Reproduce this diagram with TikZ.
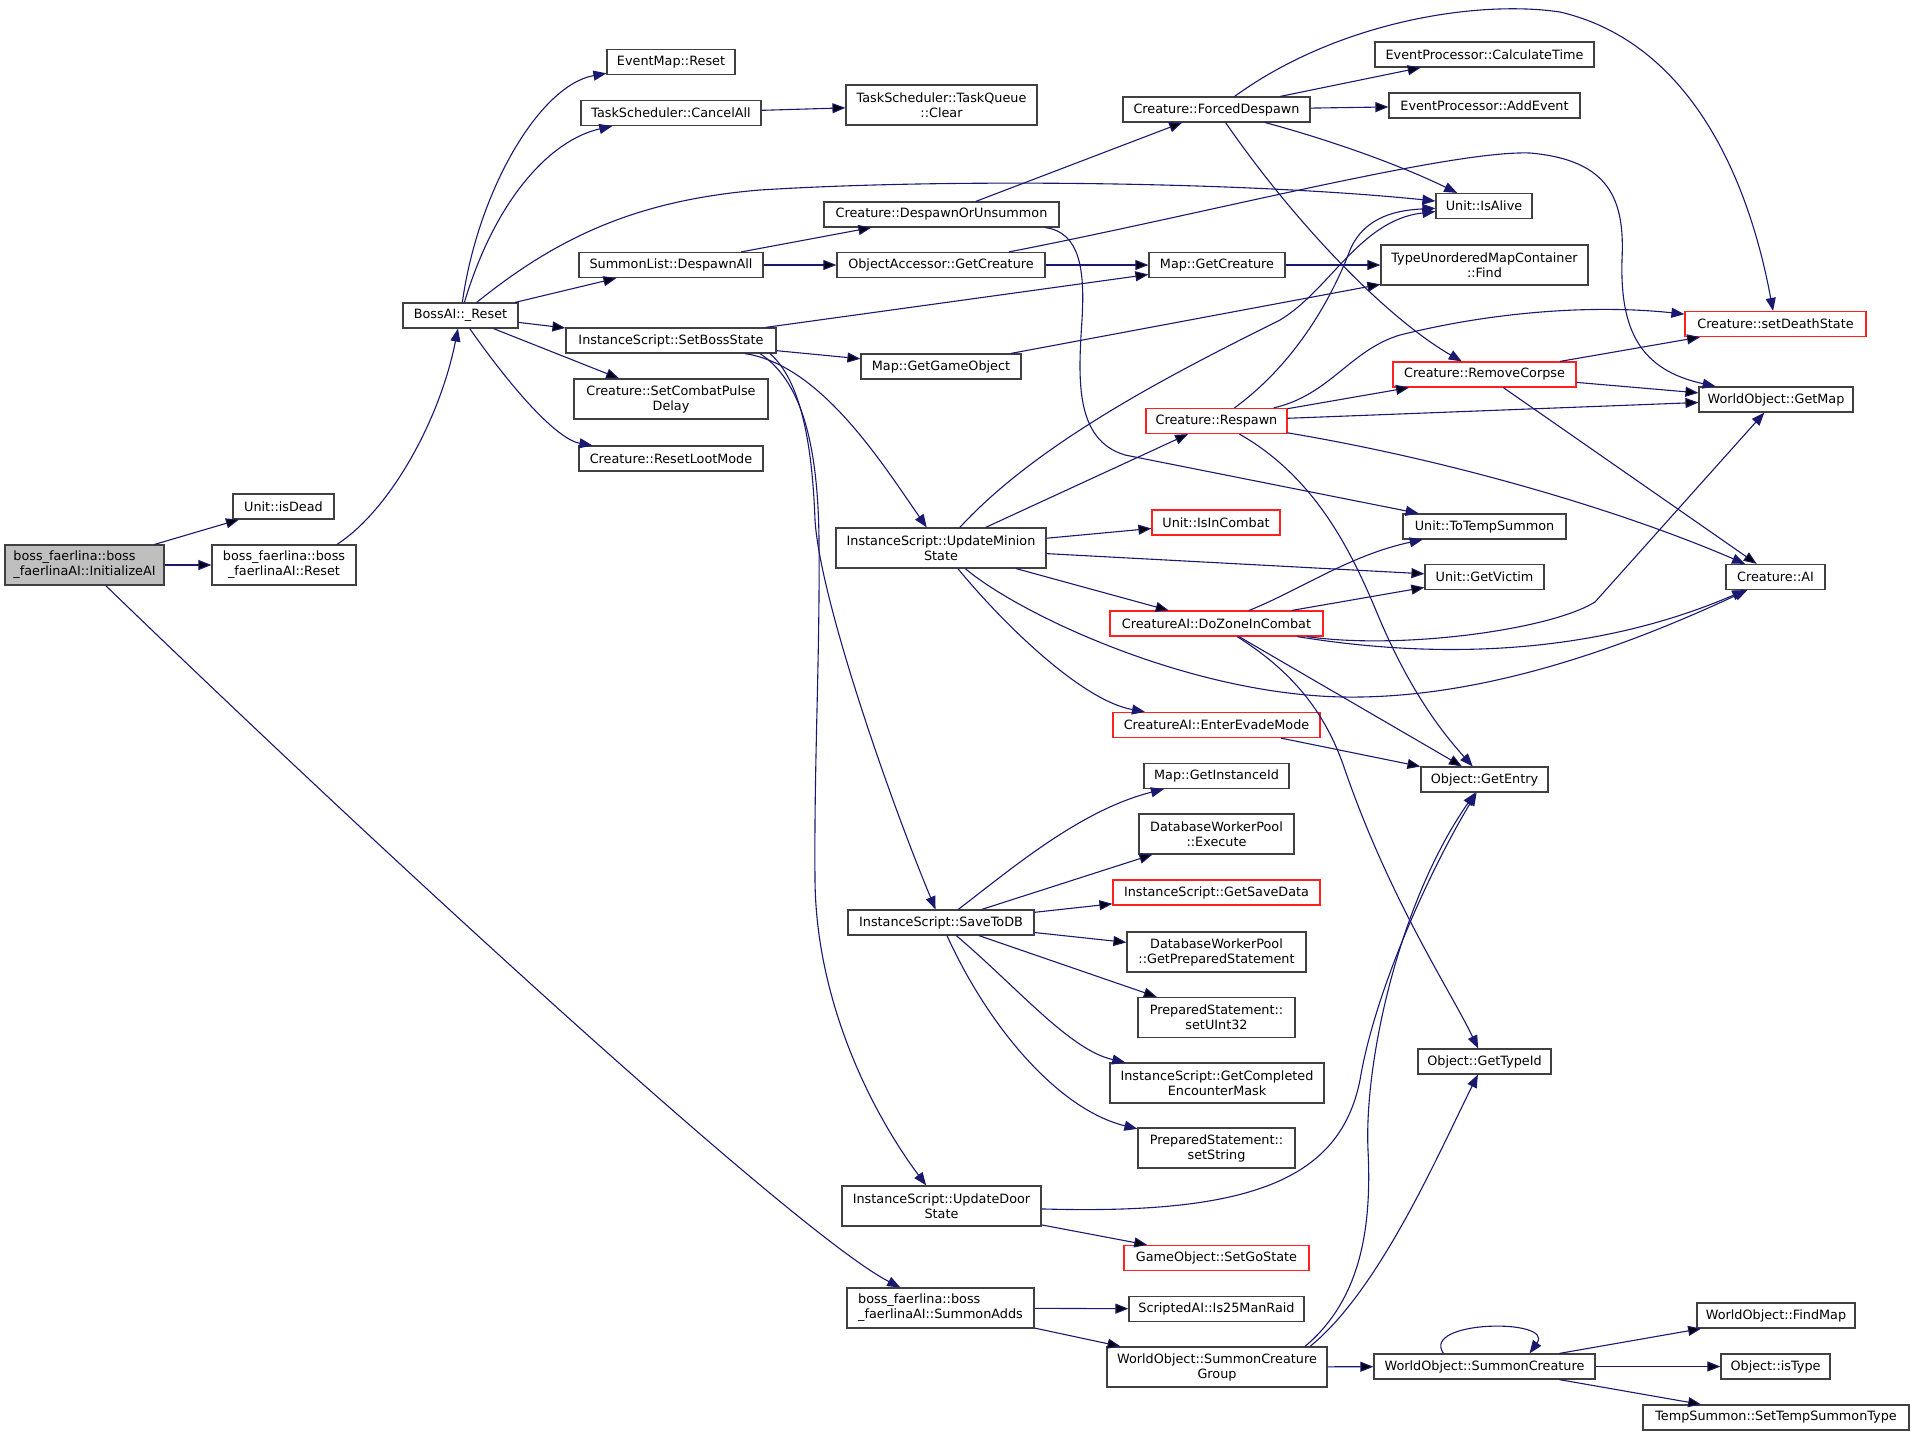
\documentclass[tikz,border=0pt]{standalone}
\usepackage{fontspec}
\setmainfont{DejaVu Sans}
\usetikzlibrary{arrows.meta}
\definecolor{callblue}{HTML}{191970}
\definecolor{boxgray}{HTML}{BFBFBF}
\definecolor{boxline}{HTML}{404040}
\definecolor{truncred}{HTML}{FF2020}
\tikzset{fn node/.style={rectangle,draw=boxline,line width=1.2pt,minimum height=25pt,inner sep=0pt,align=center,font=\fontsize{12.8}{15}\selectfont},
  tall/.style={minimum height=40pt},
  root node/.style={fn node,fill=boxgray},
  trunc node/.style={fn node,draw=truncred},
  call/.style={draw=callblue,line width=1.1pt,-{Triangle[length=13pt,width=10pt]}},}

\begin{document}
\begin{tikzpicture}[x=1pt,y=-1pt]
  \useasboundingbox (0,0) rectangle (1915,1436);
  \fill[white] (0,0) rectangle (1915,1436);

  \node[root node,tall,minimum width=159pt,align=left] (1) at (84.5,565) {boss\_faerlina::boss\\\_faerlinaAI::InitializeAI};
  \node[fn node,minimum width=101pt] (2) at (283.5,506.5) {Unit::isDead};
  \node[fn node,tall,minimum width=144pt] (3) at (284,565) {boss\_faerlina::boss\\\_faerlinaAI::Reset};
  \node[fn node,minimum width=115pt] (4) at (460.5,315.5) {BossAI::\_Reset};
  \node[fn node,minimum width=128pt] (5) at (671,62) {EventMap::Reset};
  \node[fn node,minimum width=180pt] (6) at (671,113) {TaskScheduler::CancelAll};
  \node[fn node,tall,minimum width=191pt] (7) at (941.5,105) {TaskScheduler::TaskQueue\\::Clear};
  \node[fn node,minimum width=184pt] (8) at (671,265) {SummonList::DespawnAll};
  \node[fn node,minimum width=210pt] (9) at (671,340.5) {InstanceScript::SetBossState};
  \node[fn node,tall,minimum width=194pt] (10) at (671,399) {Creature::SetCombatPulse\\Delay};
  \node[fn node,minimum width=184pt] (11) at (671,458.5) {Creature::ResetLootMode};
  \node[fn node,minimum width=235pt] (12) at (941.5,214.5) {Creature::DespawnOrUnsummon};
  \node[fn node,minimum width=208pt] (13) at (941,265) {ObjectAccessor::GetCreature};
  \node[fn node,minimum width=160pt] (14) at (941,366.5) {Map::GetGameObject};
  \node[fn node,tall,minimum width=210pt] (15) at (941,548) {InstanceScript::UpdateMinion\\State};
  \node[fn node,minimum width=186pt] (16) at (941,922.5) {InstanceScript::SaveToDB};
  \node[fn node,tall,minimum width=199pt] (17) at (941.5,1206) {InstanceScript::UpdateDoor\\State};
  \node[fn node,tall,minimum width=187pt,align=left] (18) at (940.5,1308) {boss\_faerlina::boss\\\_faerlinaAI::SummonAdds};
  \node[fn node,minimum width=187pt] (19) at (1216.5,109.5) {Creature::ForcedDespawn};
  \node[fn node,minimum width=136pt] (20) at (1217,265) {Map::GetCreature};
  \node[trunc node,minimum width=141pt] (21) at (1216.5,421) {Creature::Respawn};
  \node[trunc node,minimum width=128pt] (22) at (1216,522.5) {Unit::IsInCombat};
  \node[trunc node,minimum width=213pt] (23) at (1216.5,623.5) {CreatureAI::DoZoneInCombat};
  \node[trunc node,minimum width=207pt] (24) at (1216.5,725) {CreatureAI::EnterEvadeMode};
  \node[fn node,minimum width=145pt] (25) at (1216.5,776) {Map::GetInstanceId};
  \node[fn node,tall,minimum width=155pt] (26) at (1216.5,834) {DatabaseWorkerPool\\::Execute};
  \node[trunc node,minimum width=207pt] (27) at (1216.5,892.5) {InstanceScript::GetSaveData};
  \node[fn node,tall,minimum width=179pt] (28) at (1216.5,952) {DatabaseWorkerPool\\::GetPreparedStatement};
  \node[fn node,tall,minimum width=157pt] (29) at (1216.5,1017.5) {PreparedStatement::\\setUInt32};
  \node[fn node,tall,minimum width=214pt] (30) at (1217,1083) {InstanceScript::GetCompleted\\EncounterMask};
  \node[fn node,tall,minimum width=157pt] (31) at (1216.5,1148) {PreparedStatement::\\setString};
  \node[trunc node,minimum width=185pt] (32) at (1216.5,1258) {GameObject::SetGoState};
  \node[fn node,minimum width=175pt] (33) at (1216.5,1309) {ScriptedAI::Is25ManRaid};
  \node[fn node,tall,minimum width=220pt] (34) at (1217,1367) {WorldObject::SummonCreature\\Group};
  \node[fn node,minimum width=219pt] (35) at (1484.5,54.5) {EventProcessor::CalculateTime};
  \node[fn node,minimum width=191pt] (36) at (1484.5,105.5) {EventProcessor::AddEvent};
  \node[fn node,minimum width=96pt] (37) at (1484,206) {Unit::IsAlive};
  \node[fn node,tall,minimum width=207pt] (38) at (1484.5,265) {TypeUnorderedMapContainer\\::Find};
  \node[trunc node,minimum width=183pt] (39) at (1484.5,374.5) {Creature::RemoveCorpse};
  \node[fn node,minimum width=163pt] (40) at (1484.5,526.5) {Unit::ToTempSummon};
  \node[fn node,minimum width=119pt] (41) at (1484.5,577) {Unit::GetVictim};
  \node[fn node,minimum width=127pt] (42) at (1484.5,779.5) {Object::GetEntry};
  \node[fn node,minimum width=133pt] (43) at (1484.5,1061.5) {Object::GetTypeId};
  \node[fn node,minimum width=221pt] (44) at (1484.5,1366.5) {WorldObject::SummonCreature};
  \node[trunc node,minimum width=181pt] (45) at (1775.5,324) {Creature::setDeathState};
  \node[fn node,minimum width=154pt] (46) at (1776,399.5) {WorldObject::GetMap};
  \node[fn node,minimum width=99pt] (47) at (1775.5,577) {Creature::AI};
  \node[fn node,minimum width=158pt] (48) at (1776,1315.5) {WorldObject::FindMap};
  \node[fn node,minimum width=109pt] (49) at (1775.5,1366.5) {Object::isType};
  \node[fn node,minimum width=266pt] (50) at (1776,1417.5) {TempSummon::SetTempSummonType};

  \path[call]
  (1) edge (2)
  (1) edge (3)
  (4) edge (8)
  (4) edge (9)
  (4) edge (10)
  (6) edge (7)
  (8) edge (12)
  (8) edge (13)
  (12) edge (19)
  (13) edge (20)
  (9) edge (20)
  (9) edge (14)
  (14) edge (38)
  (20) edge (38)
  (19) edge (35)
  (19) edge (36)
  (15) edge (21)
  (15) edge (22)
  (15) edge (41)
  (15) edge (23)
  (23) edge (41)
  (23) edge (42)
  (21) edge (39)
  (21) edge (46)
  (39) edge (45)
  (39) edge (46)
  (39) edge (47)
  (24) edge (42)
  (16) edge (26)
  (16) edge (27)
  (16) edge (28)
  (16) edge (29)
  (17) edge (32)
  (18) edge (33)
  (18) edge (34)
  (34) edge (44)
  (44) edge (48)
  (44) edge (49)
  (44) edge (50);

  \draw[call] (1) .. controls (400,870) and (800,1236) .. (18);
  \draw[call] ([xshift=53pt]3.north) .. controls (390,510) and (440,420) .. (4);
  \draw[call] (4) .. controls (478,190) and (540,85) .. (5);
  \draw[call] (4) .. controls (495,200) and (550,140) .. (6);
  \draw[call] (4) .. controls (560,235) and (640,200) .. (760,190) .. controls (950,178) and (1250,182) .. (37);
  \draw[call] (4) .. controls (520,400) and (560,440) .. (11);
  \draw[call] (12) .. controls (1080,232) and (1085,270) .. (1082,320) .. controls (1078,380) and (1075,440) .. (1125,455) -- (40);
  \draw[call] (13) .. controls (1200,215) and (1450,150) .. (1530,153) .. controls (1610,160) and (1625,200) .. (1622,260) .. controls (1620,330) and (1640,370) .. (46);
  \draw[call] ([xshift=74pt]9.south) .. controls (820,365) and (880,460) .. (15);
  \draw[call] ([xshift=99pt]9.south) .. controls (800,380) and (812,440) .. (815,520) .. controls (820,600) and (890,800) .. (16);
  \draw[call] ([xshift=89pt]9.south) .. controls (800,380) and (818,440) .. (819,540) .. controls (820,660) and (814,760) .. (815,880) .. controls (816,1000) and (870,1110) .. (17);
  \draw[call] (19) .. controls (1340,20) and (1480,0) .. (1560,12) .. controls (1680,40) and (1745,160) .. (45);
  \draw[call] (19) .. controls (1330,140) and (1400,165) .. (37);
  \draw[call] (19) .. controls (1300,230) and (1390,320) .. (39);
  \draw[call] (15) .. controls (1040,440) and (1180,370) .. (1280,320) .. controls (1330,290) and (1360,220) .. (37);
  \draw[call] (15) .. controls (1000,620) and (1080,700) .. (24);
  \draw[call] (15) .. controls (1020,615) and (1200,700) .. (1360,697) .. controls (1500,695) and (1640,640) .. (47);
  \draw[call] (23) .. controls (1300,590) and (1350,555) .. (40);
  \draw[call] (23) .. controls (1400,650) and (1550,630) .. (1595,602) -- (46);
  \draw[call] (23) .. controls (1380,650) and (1560,670) .. (47);
  \draw[call] (23) .. controls (1290,670) and (1325,710) .. (1345,770) .. controls (1390,900) and (1450,990) .. (43);
  \draw[call] (21) .. controls (1300,360) and (1335,290) .. (1350,250) .. controls (1365,215) and (1400,210) .. (37);
  \draw[call] (21) .. controls (1330,395) and (1350,350) .. (1400,335) .. controls (1500,310) and (1600,305) .. (45);
  \draw[call] (21) .. controls (1450,460) and (1620,510) .. (47);
  \draw[call] (21) .. controls (1320,480) and (1355,560) .. (1380,620) .. controls (1410,690) and (1440,730) .. (42);
  \draw[call] (16) .. controls (1010,870) and (1080,810) .. (25);
  \draw[call] (16) .. controls (1020,990) and (1070,1050) .. (30);
  \draw[call] (16) .. controls (990,1030) and (1060,1110) .. (31);
  \draw[call] (17) .. controls (1250,1215) and (1340,1180) .. (1360,1080) .. controls (1375,990) and (1430,870) .. (42);
  \draw[call] ([xshift=88pt]34.north) .. controls (1360,1300) and (1372,1230) .. (1368,1150) .. controls (1364,1060) and (1400,900) .. (42);
  \draw[call] ([xshift=93pt]34.north) .. controls (1380,1290) and (1440,1150) .. (43);
  \draw[call] ([xshift=-41pt]44.north) .. controls (1420,1320) and (1555,1318) .. ([xshift=45pt]44.north);
\end{tikzpicture}
\end{document}
